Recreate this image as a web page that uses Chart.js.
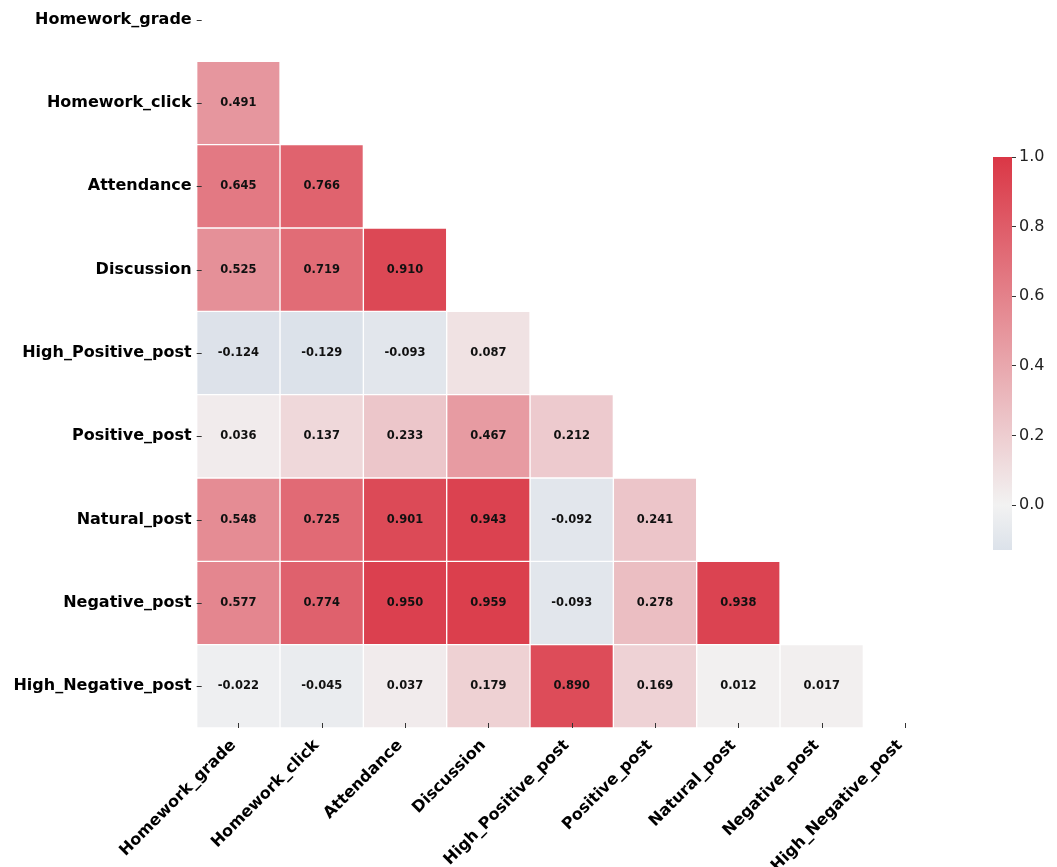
<!DOCTYPE html>
<html>
<head>
<meta charset="utf-8">
<script src="https://cdn.jsdelivr.net/npm/chart.js@4.4.1/dist/chart.umd.min.js"></script>
<style>
  html, body { margin: 0; padding: 0; background: #ffffff; overflow: hidden; }
  #main { position: absolute; left: 0; top: 0; width: 1057px; height: 867px; }
  #bar { position: absolute; left: 993px; top: 140px; width: 60px; height: 427px; }
</style>
</head>
<body>
<div id="main"><canvas id="heat"></canvas></div>
<div id="bar"><canvas id="cbar"></canvas></div>
<script>
// Variable names (rows and columns of the correlation matrix)
const variables = [
  'Homework_grade', 'Homework_click', 'Attendance', 'Discussion',
  'High_Positive_post', 'Positive_post', 'Natural_post', 'Negative_post',
  'High_Negative_post'
];

// Lower-triangle correlation values, one array per row
const homeworkGradeRow    = [];
const homeworkClickRow    = [0.491];
const attendanceRow       = [0.645, 0.766];
const discussionRow       = [0.525, 0.719, 0.910];
const highPositiveRow     = [-0.124, -0.129, -0.093, 0.087];
const positiveRow         = [0.036, 0.137, 0.233, 0.467, 0.212];
const naturalRow          = [0.548, 0.725, 0.901, 0.943, -0.092, 0.241];
const negativeRow         = [0.577, 0.774, 0.950, 0.959, -0.093, 0.278, 0.938];
const highNegativeRow     = [-0.022, -0.045, 0.037, 0.179, 0.890, 0.169, 0.012, 0.017];

const corrRows = [
  homeworkGradeRow, homeworkClickRow, attendanceRow, discussionRow,
  highPositiveRow, positiveRow, naturalRow, negativeRow, highNegativeRow
];

// Colour bar range and tick labels
const cbarMin = -0.129;
const cbarMax = 1.0;
const cbarTicks = [0.0, 0.2, 0.4, 0.6, 0.8, 1.0];

// Diverging colour map centred on 0 (blue-grey -> light grey -> red)
const NEG = [70, 115, 180];
const MID = [242, 242, 242];
const POS = [218, 55, 70];
function cmap(v) {
  const t = Math.max(-1, Math.min(1, v));
  const end = t >= 0 ? POS : NEG;
  const a = Math.abs(t);
  const c = MID.map((m, i) => Math.round(m + (end[i] - m) * a));
  return `rgb(${c[0]},${c[1]},${c[2]})`;
}

Chart.defaults.font.family = "'DejaVu Sans', sans-serif";
Chart.defaults.color = '#000';

// One floating-bar dataset per row; each bar spans its row band
const datasets = corrRows.map((vals, r) => ({
  label: variables[r],
  values: vals,
  data: variables.map((_, c) => c < vals.length ? [r - 0.5, r + 0.5] : null),
  backgroundColor: variables.map((_, c) => c < vals.length ? cmap(vals[c]) : 'rgba(0,0,0,0)'),
  borderColor: '#ffffff',
  borderWidth: 1,
  borderSkipped: false,
  barPercentage: 1,
  categoryPercentage: 1,
  grouped: false
}));

// Cell value labels and short tick marks along the axes
const cellText = {
  id: 'cellText',
  afterDatasetsDraw(chart) {
    const ctx = chart.ctx;
    ctx.save();
    ctx.font = "bold 11.5px 'DejaVu Sans'";
    ctx.fillStyle = '#111';
    ctx.textAlign = 'center';
    ctx.textBaseline = 'middle';
    chart.data.datasets.forEach((ds, di) => {
      const meta = chart.getDatasetMeta(di);
      meta.data.forEach((el, j) => {
        if (ds.data[j] == null) return;
        ctx.fillText(ds.values[j].toFixed(3), el.x, (el.y + el.base) / 2);
      });
    });
    const xs = chart.scales.x, ys = chart.scales.y, ca = chart.chartArea;
    ctx.strokeStyle = '#333';
    ctx.lineWidth = 1;
    ctx.beginPath();
    variables.forEach((_, i) => {
      const y = Math.round(ys.getPixelForValue(i)) + 0.5;
      ctx.moveTo(ca.left, y); ctx.lineTo(ca.left + 5, y);
      const x = Math.round(xs.getPixelForValue(i)) + 0.5;
      ctx.moveTo(x, ca.bottom - 5); ctx.lineTo(x, ca.bottom);
    });
    ctx.stroke();
    ctx.restore();
  }
};

new Chart(document.getElementById('heat'), {
  type: 'bar',
  data: { labels: variables, datasets },
  options: {
    responsive: true,
    maintainAspectRatio: false,
    animation: false,
    layout: { padding: { left: 0, top: 0, right: 110.3, bottom: 0 } },
    plugins: { legend: { display: false }, tooltip: { enabled: false } },
    scales: {
      x: {
        type: 'category',
        offset: true,
        grid: { display: false, drawTicks: false },
        border: { display: false },
        ticks: {
          autoSkip: false, maxRotation: 45, minRotation: 45, padding: 8, labelOffset: -5,
          font: { size: 16, weight: 'bold' }, color: '#000'
        },
        afterFit(s) { s.height = 139; s.paddingLeft = 0; s.paddingRight = 0; }
      },
      y: {
        type: 'linear',
        reverse: true,
        min: -0.236,
        max: 8.5,
        grid: { display: false, drawTicks: false },
        border: { display: false },
        afterBuildTicks(s) { s.ticks = variables.map((_, i) => ({ value: i })); },
        ticks: {
          padding: 5,
          font: { size: 16, weight: 'bold' }, color: '#000',
          callback: (v) => variables[v]
        },
        afterFit(s) { s.width = 196.7; s.paddingTop = 0; s.paddingBottom = 0; }
      }
    }
  },
  plugins: [cellText]
});

// Colour bar: a single floating bar filled with the colour map gradient
new Chart(document.getElementById('cbar'), {
  type: 'bar',
  data: {
    labels: [''],
    datasets: [{
      data: [[cbarMin, cbarMax]],
      backgroundColor(ctx) {
        const chart = ctx.chart;
        if (!chart.chartArea) return MID;
        const ys = chart.scales.y;
        const g = chart.ctx.createLinearGradient(0, ys.getPixelForValue(cbarMin), 0, ys.getPixelForValue(cbarMax));
        const span = cbarMax - cbarMin;
        g.addColorStop(0, cmap(cbarMin));
        g.addColorStop((0 - cbarMin) / span, cmap(0));
        g.addColorStop(1, cmap(cbarMax));
        return g;
      },
      borderWidth: 0,
      barPercentage: 1,
      categoryPercentage: 1
    }]
  },
  options: {
    responsive: true,
    maintainAspectRatio: false,
    animation: false,
    layout: { padding: { left: 0, top: 17, right: 0, bottom: 17 } },
    plugins: { legend: { display: false }, tooltip: { enabled: false } },
    scales: {
      x: { display: false, offset: true },
      y: {
        position: 'right',
        min: cbarMin,
        max: cbarMax,
        grid: { drawOnChartArea: false, drawTicks: true, tickLength: 4, tickColor: '#333', tickWidth: 1 },
        border: { display: false },
        afterBuildTicks(s) { s.ticks = cbarTicks.map(v => ({ value: v })); },
        ticks: {
          padding: 3,
          font: { size: 16 }, color: '#222',
          callback: (v) => Number(v).toFixed(1)
        },
        afterFit(s) { s.width = 41; s.paddingTop = 0; s.paddingBottom = 0; }
      }
    }
  }
});
</script>
</body>
</html>
